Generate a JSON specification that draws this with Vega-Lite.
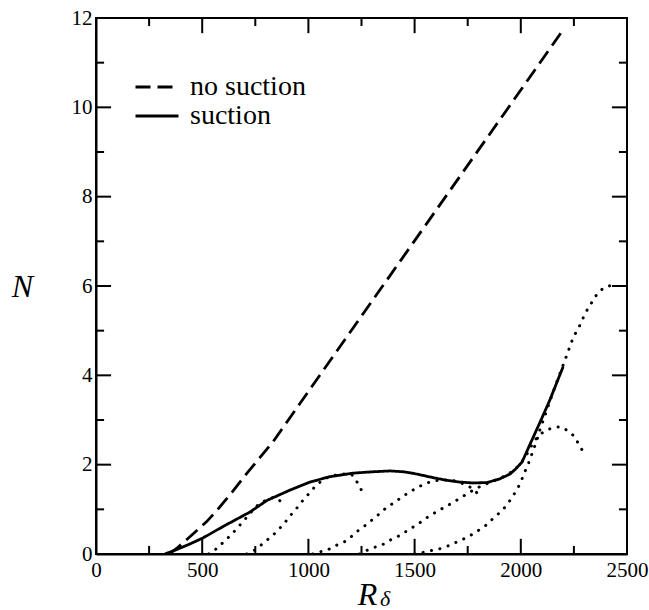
{
  "$schema": "https://vega.github.io/schema/vega-lite/v6.json",
  "width": 531,
  "height": 536,
  "autosize": "none",
  "padding": {"left": 96, "top": 18, "right": 22, "bottom": 56},
  "background": "white",
  "config": {
    "view": {"stroke": "black", "strokeWidth": 2},
    "font": "Liberation Serif",
    "axis": {
      "domainColor": "black",
      "domainWidth": 2,
      "tickSize": 0,
      "tickColor": "black",
      "grid": false,
      "labelFont": "Liberation Serif",
      "labelFontSize": 21,
      "labelColor": "black",
      "labelFlush": false,
      "labelOverlap": false,
      "titleFont": "Liberation Serif",
      "titleColor": "black",
      "titleFontWeight": "normal"
    },
    "legend": {
      "labelFont": "Liberation Serif",
      "labelFontSize": 28,
      "labelColor": "black"
    }
  },
  "resolve": {"axis": {"x": "independent", "y": "independent"}},
  "title": {
    "text": "δ",
    "orient": "bottom",
    "anchor": "start",
    "frame": "group",
    "font": "Liberation Serif",
    "fontSize": 22,
    "fontStyle": "italic",
    "fontWeight": "normal",
    "color": "black",
    "dx": 284,
    "offset": -21
  },
  "datasets": {
    "envelope": [
      {"series": "no suction", "R": 345, "N": 0},
      {"series": "no suction", "R": 381, "N": 0.13},
      {"series": "no suction", "R": 450, "N": 0.42},
      {"series": "no suction", "R": 520, "N": 0.72},
      {"series": "no suction", "R": 570, "N": 0.98},
      {"series": "no suction", "R": 640, "N": 1.38},
      {"series": "no suction", "R": 711, "N": 1.81},
      {"series": "no suction", "R": 833, "N": 2.51},
      {"series": "no suction", "R": 1000, "N": 3.64},
      {"series": "no suction", "R": 1652, "N": 8.04},
      {"series": "no suction", "R": 2194, "N": 11.7},
      {"series": "suction", "R": 325, "N": 0},
      {"series": "suction", "R": 380, "N": 0.1},
      {"series": "suction", "R": 440, "N": 0.22},
      {"series": "suction", "R": 504, "N": 0.36},
      {"series": "suction", "R": 600, "N": 0.62},
      {"series": "suction", "R": 725, "N": 0.94},
      {"series": "suction", "R": 805, "N": 1.2},
      {"series": "suction", "R": 913, "N": 1.43},
      {"series": "suction", "R": 1007, "N": 1.61},
      {"series": "suction", "R": 1100, "N": 1.73},
      {"series": "suction", "R": 1210, "N": 1.81},
      {"series": "suction", "R": 1300, "N": 1.84},
      {"series": "suction", "R": 1384, "N": 1.86},
      {"series": "suction", "R": 1450, "N": 1.84},
      {"series": "suction", "R": 1500, "N": 1.8},
      {"series": "suction", "R": 1587, "N": 1.71},
      {"series": "suction", "R": 1650, "N": 1.65},
      {"series": "suction", "R": 1714, "N": 1.61},
      {"series": "suction", "R": 1775, "N": 1.59},
      {"series": "suction", "R": 1841, "N": 1.6},
      {"series": "suction", "R": 1900, "N": 1.68},
      {"series": "suction", "R": 1949, "N": 1.79},
      {"series": "suction", "R": 1975, "N": 1.9},
      {"series": "suction", "R": 2006, "N": 2.06},
      {"series": "suction", "R": 2040, "N": 2.42},
      {"series": "suction", "R": 2100, "N": 3.05},
      {"series": "suction", "R": 2137, "N": 3.45},
      {"series": "suction", "R": 2199, "N": 4.19}
    ],
    "majorR": [{"R": 500}, {"R": 1000}, {"R": 1500}, {"R": 2000}],
    "minorR": [{"R": 250}, {"R": 750}, {"R": 1250}, {"R": 1750}, {"R": 2250}],
    "majorN": [{"N": 2}, {"N": 4}, {"N": 6}, {"N": 8}, {"N": 10}],
    "minorN": [{"N": 1}, {"N": 3}, {"N": 5}, {"N": 7}, {"N": 9}, {"N": 11}],
    "branches": [
      {"branch": "b1", "R": 530, "N": 0},
      {"branch": "b1", "R": 560, "N": 0.09},
      {"branch": "b1", "R": 590, "N": 0.22},
      {"branch": "b1", "R": 621, "N": 0.36},
      {"branch": "b1", "R": 650, "N": 0.5},
      {"branch": "b1", "R": 678, "N": 0.65},
      {"branch": "b1", "R": 711, "N": 0.83},
      {"branch": "b1", "R": 740, "N": 0.99},
      {"branch": "b1", "R": 763, "N": 1.1},
      {"branch": "b1", "R": 805, "N": 1.22},
      {"branch": "b1", "R": 838, "N": 1.27},
      {"branch": "b1", "R": 860, "N": 1.22},
      {"branch": "b1", "R": 880, "N": 1.12},
      {"branch": "b2", "R": 710, "N": 0},
      {"branch": "b2", "R": 740, "N": 0.06},
      {"branch": "b2", "R": 772, "N": 0.18},
      {"branch": "b2", "R": 805, "N": 0.31},
      {"branch": "b2", "R": 833, "N": 0.42},
      {"branch": "b2", "R": 866, "N": 0.58},
      {"branch": "b2", "R": 899, "N": 0.76},
      {"branch": "b2", "R": 922, "N": 0.9},
      {"branch": "b2", "R": 946, "N": 1.03},
      {"branch": "b2", "R": 974, "N": 1.2},
      {"branch": "b2", "R": 1004, "N": 1.36},
      {"branch": "b2", "R": 1031, "N": 1.51},
      {"branch": "b2", "R": 1060, "N": 1.63},
      {"branch": "b2", "R": 1093, "N": 1.72},
      {"branch": "b2", "R": 1139, "N": 1.78},
      {"branch": "b2", "R": 1180, "N": 1.8},
      {"branch": "b2", "R": 1210, "N": 1.76},
      {"branch": "b2", "R": 1228, "N": 1.62},
      {"branch": "b2", "R": 1243, "N": 1.48},
      {"branch": "b2", "R": 1266, "N": 1.32},
      {"branch": "b3", "R": 1020, "N": 0},
      {"branch": "b3", "R": 1050, "N": 0.04},
      {"branch": "b3", "R": 1093, "N": 0.1},
      {"branch": "b3", "R": 1134, "N": 0.2},
      {"branch": "b3", "R": 1172, "N": 0.28},
      {"branch": "b3", "R": 1205, "N": 0.4},
      {"branch": "b3", "R": 1238, "N": 0.54},
      {"branch": "b3", "R": 1271, "N": 0.65},
      {"branch": "b3", "R": 1304, "N": 0.78},
      {"branch": "b3", "R": 1337, "N": 0.91},
      {"branch": "b3", "R": 1370, "N": 1.05},
      {"branch": "b3", "R": 1408, "N": 1.16},
      {"branch": "b3", "R": 1441, "N": 1.28},
      {"branch": "b3", "R": 1478, "N": 1.39},
      {"branch": "b3", "R": 1516, "N": 1.5},
      {"branch": "b3", "R": 1558, "N": 1.59},
      {"branch": "b3", "R": 1596, "N": 1.64},
      {"branch": "b3", "R": 1640, "N": 1.66},
      {"branch": "b3", "R": 1690, "N": 1.64},
      {"branch": "b3", "R": 1730, "N": 1.57},
      {"branch": "b3", "R": 1760, "N": 1.5},
      {"branch": "b3", "R": 1784, "N": 1.42},
      {"branch": "b3", "R": 1795, "N": 1.36},
      {"branch": "b4", "R": 1240, "N": 0},
      {"branch": "b4", "R": 1270, "N": 0.07},
      {"branch": "b4", "R": 1299, "N": 0.13},
      {"branch": "b4", "R": 1346, "N": 0.2},
      {"branch": "b4", "R": 1384, "N": 0.31},
      {"branch": "b4", "R": 1417, "N": 0.38},
      {"branch": "b4", "R": 1455, "N": 0.49},
      {"branch": "b4", "R": 1492, "N": 0.6},
      {"branch": "b4", "R": 1525, "N": 0.7},
      {"branch": "b4", "R": 1563, "N": 0.83},
      {"branch": "b4", "R": 1601, "N": 0.94},
      {"branch": "b4", "R": 1634, "N": 1.03},
      {"branch": "b4", "R": 1676, "N": 1.14},
      {"branch": "b4", "R": 1714, "N": 1.25},
      {"branch": "b4", "R": 1751, "N": 1.36},
      {"branch": "b4", "R": 1784, "N": 1.45},
      {"branch": "b4", "R": 1820, "N": 1.54},
      {"branch": "b4", "R": 1860, "N": 1.61},
      {"branch": "b4", "R": 1900, "N": 1.69},
      {"branch": "b4", "R": 1940, "N": 1.78},
      {"branch": "b4", "R": 1982, "N": 1.94},
      {"branch": "b4", "R": 2010, "N": 2.1},
      {"branch": "b4", "R": 2029, "N": 2.24},
      {"branch": "b4", "R": 2050, "N": 2.42},
      {"branch": "b4", "R": 2067, "N": 2.55},
      {"branch": "b4", "R": 2085, "N": 2.66},
      {"branch": "b4", "R": 2110, "N": 2.74},
      {"branch": "b4", "R": 2140, "N": 2.81},
      {"branch": "b4", "R": 2185, "N": 2.85},
      {"branch": "b4", "R": 2222, "N": 2.76},
      {"branch": "b4", "R": 2255, "N": 2.62},
      {"branch": "b4", "R": 2274, "N": 2.44},
      {"branch": "b4", "R": 2298, "N": 2.26},
      {"branch": "b5", "R": 1500, "N": 0},
      {"branch": "b5", "R": 1525, "N": 0.02},
      {"branch": "b5", "R": 1572, "N": 0.07},
      {"branch": "b5", "R": 1620, "N": 0.12},
      {"branch": "b5", "R": 1657, "N": 0.18},
      {"branch": "b5", "R": 1700, "N": 0.27},
      {"branch": "b5", "R": 1737, "N": 0.35},
      {"branch": "b5", "R": 1775, "N": 0.45},
      {"branch": "b5", "R": 1808, "N": 0.55},
      {"branch": "b5", "R": 1841, "N": 0.66},
      {"branch": "b5", "R": 1874, "N": 0.82},
      {"branch": "b5", "R": 1907, "N": 0.95},
      {"branch": "b5", "R": 1935, "N": 1.1},
      {"branch": "b5", "R": 1959, "N": 1.27},
      {"branch": "b5", "R": 1982, "N": 1.44},
      {"branch": "b5", "R": 2001, "N": 1.62},
      {"branch": "b5", "R": 2015, "N": 1.8},
      {"branch": "b5", "R": 2034, "N": 2.0},
      {"branch": "b5", "R": 2057, "N": 2.3},
      {"branch": "b5", "R": 2076, "N": 2.55},
      {"branch": "b5", "R": 2090, "N": 2.78},
      {"branch": "b5", "R": 2110, "N": 3.05},
      {"branch": "b5", "R": 2137, "N": 3.42},
      {"branch": "b5", "R": 2165, "N": 3.8},
      {"branch": "b5", "R": 2194, "N": 4.16},
      {"branch": "b5", "R": 2208, "N": 4.34},
      {"branch": "b5", "R": 2222, "N": 4.52},
      {"branch": "b5", "R": 2236, "N": 4.72},
      {"branch": "b5", "R": 2255, "N": 4.92},
      {"branch": "b5", "R": 2274, "N": 5.08},
      {"branch": "b5", "R": 2293, "N": 5.28},
      {"branch": "b5", "R": 2312, "N": 5.46},
      {"branch": "b5", "R": 2335, "N": 5.64},
      {"branch": "b5", "R": 2359, "N": 5.82},
      {"branch": "b5", "R": 2392, "N": 5.97},
      {"branch": "b5", "R": 2430, "N": 6.02}
    ]
  },
  "layer": [
    {
      "data": {"name": "branches"},
      "mark": {"type": "line", "color": "black", "strokeWidth": 3, "strokeDash": [0.1, 8.5], "strokeCap": "round", "clip": true},
      "encoding": {
        "x": {
          "field": "R", "type": "quantitative",
          "scale": {"domain": [0, 2500], "nice": false},
          "axis": {
            "orient": "bottom",
            "values": [0, 500, 1000, 1500, 2000, 2500],
            "format": "d",
            "labelPadding": 5,
            "title": "R",
            "titleFontSize": 32,
            "titleFontStyle": "italic",
            "titleX": 271,
            "titleY": 50,
            "titleAlign": "center",
            "titleBaseline": "alphabetic"
          }
        },
        "y": {
          "field": "N", "type": "quantitative",
          "scale": {"domain": [0, 12], "nice": false},
          "axis": {
            "orient": "left",
            "values": [0, 2, 4, 6, 8, 10, 12],
            "format": "d",
            "labelPadding": 4,
            "title": "N",
            "titleFontSize": 32,
            "titleFontStyle": "italic",
            "titleAngle": 0,
            "titleX": -74,
            "titleY": 268,
            "titleAlign": "center",
            "titleBaseline": "middle"
          }
        },
        "detail": {"field": "branch", "type": "nominal"}
      }
    },
    {
      "data": {"name": "majorR"},
      "mark": {"type": "rule", "color": "black", "strokeWidth": 2},
      "encoding": {
        "x": {"field": "R", "type": "quantitative", "axis": null},
        "y": {"datum": 0, "type": "quantitative", "axis": null},
        "y2": {"datum": 0.34}
      }
    },
    {
      "data": {"name": "majorR"},
      "mark": {"type": "rule", "color": "black", "strokeWidth": 2},
      "encoding": {
        "x": {"field": "R", "type": "quantitative", "axis": null},
        "y": {"datum": 12, "type": "quantitative", "axis": null},
        "y2": {"datum": 11.66}
      }
    },
    {
      "data": {"name": "minorR"},
      "mark": {"type": "rule", "color": "black", "strokeWidth": 2},
      "encoding": {
        "x": {"field": "R", "type": "quantitative", "axis": null},
        "y": {"datum": 0, "type": "quantitative", "axis": null},
        "y2": {"datum": 0.18}
      }
    },
    {
      "data": {"name": "minorR"},
      "mark": {"type": "rule", "color": "black", "strokeWidth": 2},
      "encoding": {
        "x": {"field": "R", "type": "quantitative", "axis": null},
        "y": {"datum": 12, "type": "quantitative", "axis": null},
        "y2": {"datum": 11.82}
      }
    },
    {
      "data": {"name": "majorN"},
      "mark": {"type": "rule", "color": "black", "strokeWidth": 2},
      "encoding": {
        "y": {"field": "N", "type": "quantitative", "axis": null},
        "x": {"datum": 0, "type": "quantitative", "axis": null},
        "x2": {"datum": 71}
      }
    },
    {
      "data": {"name": "majorN"},
      "mark": {"type": "rule", "color": "black", "strokeWidth": 2},
      "encoding": {
        "y": {"field": "N", "type": "quantitative", "axis": null},
        "x": {"datum": 2500, "type": "quantitative", "axis": null},
        "x2": {"datum": 2429}
      }
    },
    {
      "data": {"name": "minorN"},
      "mark": {"type": "rule", "color": "black", "strokeWidth": 2},
      "encoding": {
        "y": {"field": "N", "type": "quantitative", "axis": null},
        "x": {"datum": 0, "type": "quantitative", "axis": null},
        "x2": {"datum": 38}
      }
    },
    {
      "data": {"name": "minorN"},
      "mark": {"type": "rule", "color": "black", "strokeWidth": 2},
      "encoding": {
        "y": {"field": "N", "type": "quantitative", "axis": null},
        "x": {"datum": 2500, "type": "quantitative", "axis": null},
        "x2": {"datum": 2462}
      }
    },
    {
      "data": {"name": "envelope"},
      "mark": {"type": "line", "color": "black", "strokeWidth": 2.8, "clip": true},
      "encoding": {
        "x": {"field": "R", "type": "quantitative", "axis": null},
        "y": {"field": "N", "type": "quantitative", "axis": null},
        "strokeDash": {
          "field": "series", "type": "nominal",
          "scale": {"domain": ["no suction", "suction"], "range": [[15, 7], [1, 0]]},
          "legend": {
            "orient": "none",
            "legendX": 47,
            "legendY": 55,
            "title": null,
            "symbolType": "M-2.5,0H2.5",
            "symbolSize": 296,
            "symbolStrokeWidth": 3,
            "symbolStrokeColor": "black",
            "labelFont": "Liberation Serif",
            "labelFontSize": 28,
            "labelColor": "black",
            "labelOffset": 19,
            "rowPadding": 1
          }
        }
      }
    }
  ]
}
